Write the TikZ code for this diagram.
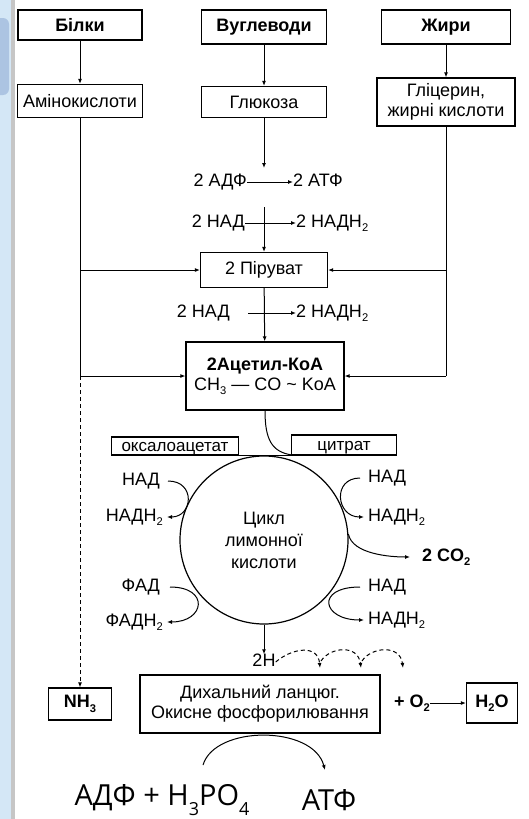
\documentclass[tikz,border=0pt]{standalone}
\usepackage{fontspec}
\usepackage{graphicx}
\setmainfont{Liberation Sans}
\newfontfamily\bigfont{Open Sans}
\usetikzlibrary{arrows.meta,positioning}
\definecolor{stripblue}{RGB}{212,231,246}
\definecolor{blobblue}{RGB}{172,196,226}
\newcommand{\lowsub}[1]{\raisebox{-0.45ex}{\scalebox{0.62}{#1}}}
\newcommand{\biglowsub}[1]{\raisebox{-0.7ex}{\scalebox{0.62}{#1}}}
\tikzset{
  box/.style={draw,line width=1.2pt,inner sep=2pt,align=center,font=\fontsize{18}{20}\selectfont},
  bbox/.style={box,font=\fontsize{18}{20}\selectfont\bfseries},
  smallbox/.style={draw,line width=1.2pt,inner sep=0pt,text height=12pt,text depth=1pt,font=\fontsize{17}{19}\selectfont},
  lbl/.style={inner sep=0pt,text height=12pt,text depth=3pt,font=\fontsize{18}{20}\selectfont},
  blbl/.style={lbl,font=\fontsize{18}{20}\selectfont\bfseries},
  conn/.style={line width=1pt,-{Latex[length=5pt,width=4pt]}},
  link/.style={line width=1pt},
  dash2h/.style={conn,dash pattern=on 4pt off 3pt},
}
\begin{document}
\begin{tikzpicture}[x=1pt,y=-1pt]
\useasboundingbox (0,0) rectangle (529,819);
\fill[stripblue](0,0) rectangle (11,819);
\fill[gray!45](11,0) rectangle (15,819);
\fill[blobblue,rounded corners=6pt](-10,18) rectangle (9,95);

\node[bbox,minimum width=124pt,minimum height=30pt](bilky) at (80,25){Білки};
\node[bbox,minimum width=125pt,minimum height=34pt](vuhl) at (264,27){Вуглеводи};
\node[bbox,minimum width=129pt,minimum height=34pt](zhyry) at (446,27){Жири};
\node[box,minimum width=125pt,minimum height=33pt](amino) at (80,101){Амінокислоти};
\node[box,minimum width=125pt,minimum height=31pt](hlukoza) at (264,102){Глюкоза};
\node[box,minimum width=138pt,minimum height=48pt](hlitser) at (446,102){Гліцерин,\\жирні кислоти};
\draw[conn](bilky)--(amino);
\draw[conn](vuhl)--(hlukoza);
\draw[conn](zhyry)--(hlitser);

\coordinate(g1) at (264,168);
\draw[conn](hlukoza)--(g1);
\node[lbl,anchor=east](adf) at (247,182){2 АДФ};
\node[lbl,anchor=west](atf) at (293,182){2 АТФ};
\draw[conn](adf)--(atf);

\node[lbl,anchor=east](nad1) at (245,223){2 НАД};
\node[lbl,anchor=west](nadh1) at (296,223){2 НАДН\lowsub{2}};
\draw[conn](nad1)--(nadh1);
\node[box,minimum width=127pt,minimum height=35pt](piruv) at (264,270){2 Піруват};
\coordinate(g2) at (264,207);
\draw[conn](g2)--(piruv);

\node[lbl,anchor=east](nad2) at (230,313){2 НАД};
\node[lbl,anchor=west](nadh2) at (296,313){2 НАДН\lowsub{2}};
\coordinate(n2) at (248,313);
\draw[conn](n2)--(nadh2);
\node[box,minimum width=158pt,minimum height=68pt](acetyl) at (265,376){\textbf{2Ацетил-КоА}\\CH\lowsub{3} — CO \textasciitilde{} KoA};
\draw[conn](piruv)--(acetyl);

\draw[link](amino)--(amino |- acetyl);
\draw[conn](amino |- piruv)--(piruv);
\draw[conn](amino |- acetyl)--(acetyl);
\draw[link](hlitser)--(hlitser |- acetyl);
\draw[conn](hlitser |- piruv)--(piruv);
\draw[conn](hlitser |- acetyl)--(acetyl);

\node[bbox,minimum width=63pt,minimum height=32pt](nh3) at (80,704){NH\lowsub{3}};
\draw[conn,dash pattern=on 4pt off 3pt](amino |- acetyl)--(nh3);

\node[circle,draw,line width=1.2pt,minimum size=168pt,align=center,font=\fontsize{18}{22}\selectfont](tsykl) at (264,540){Цикл\\лимонної\\кислоти};
\node[smallbox,minimum width=127pt,minimum height=18pt](oksalo) at (175,446){оксалоацетат};
\node[smallbox,minimum width=105pt,minimum height=20pt](tsytrat) at (344,445){цитрат};
\draw[link](oksalo.south east)--(tsytrat.south west);
\draw[link](acetyl.south) .. controls (265,440) and (272,452) .. (292,455);

\node[lbl,anchor=east](nadl1) at (160,481){НАД};
\node[lbl,anchor=east](nadhl1) at (163,517){НАДН\lowsub{2}};
\draw[conn]([xshift=8pt]nadl1.east) .. controls +(28,0) and +(26,0) .. ([xshift=4pt]nadhl1.east);
\node[lbl,anchor=east](fad) at (160,587){ФАД};
\node[lbl,anchor=east](fadh) at (163,622){ФАДН\lowsub{2}};
\draw[conn]([xshift=10pt]fad.east) .. controls +(40,0) and +(38,0) .. ([xshift=4pt]fadh.east);

\node[lbl,anchor=west](nadr1) at (368,478){НАД};
\node[lbl,anchor=west](nadhr1) at (368,517){НАДН\lowsub{2}};
\draw[conn]([xshift=-8pt]nadr1.west) .. controls +(-28,0) and +(-28,0) .. ([xshift=-4pt]nadhr1.west);
\node[blbl,anchor=west](co2) at (422,557){2 CO\lowsub{2}};
\draw[conn](tsykl.4) .. controls +(4,20) and +(-20,0) .. ([xshift=-12pt]co2.west);
\node[lbl,anchor=west](nadr2) at (368,587){НАД};
\node[lbl,anchor=west](nadhr2) at (368,620){НАДН\lowsub{2}};
\draw[conn]([xshift=-8pt]nadr2.west) .. controls +(-45,0) and +(-42,0) .. ([xshift=-4pt]nadhr2.west);

\node[lbl](h2) at (264,662){2H};
\draw[conn](tsykl.south)--(h2);
\coordinate(d1) at (320,668);
\coordinate(d2) at (361,668);
\coordinate(d3) at (403,668);
\draw[dash2h](h2.east) .. controls (292,648) and (318,644) .. (d1);
\draw[dash2h](321,661) .. controls (330,647) and (358,644) .. (d2);
\draw[dash2h](362,661) .. controls (371,647) and (400,644) .. (d3);

\node[box,minimum width=240pt,minimum height=58pt](dykh) at (260,704){Дихальний ланцюг.\\Окисне фосфорилювання};
\node[blbl](o2) at (412,703){+ O\lowsub{2}};
\node[bbox,minimum width=51pt,minimum height=40pt](h2o) at (492,703){H\lowsub{2}O};
\draw[conn](o2)--(h2o);

\node[inner sep=0pt,font=\bigfont\fontsize{29}{32}\selectfont](adfb) at (162,800){АДФ + H\biglowsub{3}PO\biglowsub{4}};
\node[inner sep=0pt,font=\bigfont\fontsize{29}{32}\selectfont](atfb) at (329,800){АТФ};
\coordinate(b1) at (203,765);
\coordinate(b2) at (325,770);
\draw[conn](b1) .. controls (215,725) and (313,725) .. (b2);
\end{tikzpicture}
\end{document}
